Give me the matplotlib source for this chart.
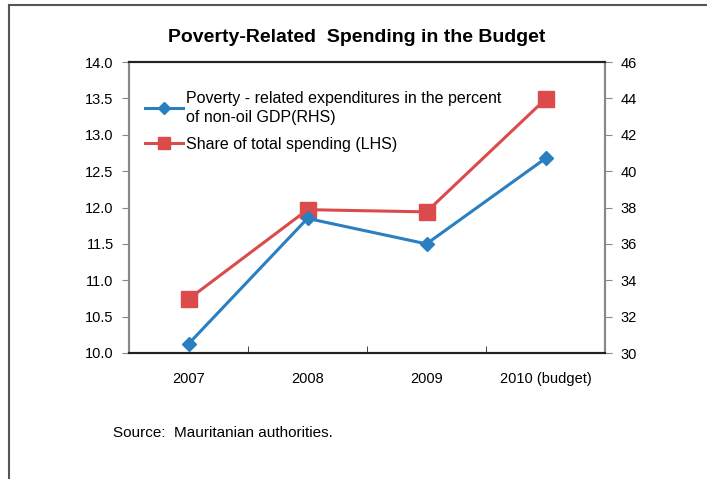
import matplotlib.pyplot as plt
from matplotlib.lines import Line2D

years = ["2007", "2008", "2009", "2010 (budget)"]
# poverty-related expenditures, percent of non-oil GDP (right axis)
poverty_gdp = [30.5, 37.4, 36.0, 40.7]
# share of total spending (left axis)
share_spending = [10.74, 11.97, 11.94, 13.49]

left_ticks = [10.0, 10.5, 11.0, 11.5, 12.0, 12.5, 13.0, 13.5, 14.0]
right_ticks = [30, 32, 34, 36, 38, 40, 42, 44, 46]

BLUE = "#2a7fc1"
RED = "#dc4b4b"

plt.rcParams["font.family"] = ["Liberation Sans", "DejaVu Sans"]

fig = plt.figure(figsize=(7.07, 4.79), dpi=100)
ax = fig.add_axes([129 / 707, 1 - 353 / 479, 476 / 707, 291 / 479])
ax2 = ax.twinx()

x = list(range(len(years)))
red_line, = ax.plot(x, share_spending, color=RED, lw=2.2, marker="s", ms=11,
                    label="Share of total spending (LHS)")
blue_line, = ax2.plot(x, poverty_gdp, color=BLUE, lw=2.2, marker="D", ms=7.5,
                      label="Poverty - related expenditures in the percent\nof non-oil GDP(RHS)")

ax.set_xlim(-0.5, len(years) - 0.5)
ax.set_ylim(10, 14)
ax2.set_ylim(30, 46)
ax.set_yticks(left_ticks)
ax.set_yticklabels([f"{v:.1f}" for v in left_ticks])
ax2.set_yticks(right_ticks)

ax.set_xticks(x)
ax.set_xticklabels(years)
ax.set_xticks([i + 0.5 for i in x[:-1]], minor=True)
ax.tick_params(axis="x", which="major", length=0, pad=14, labelsize=10.5)
ax.tick_params(axis="x", which="minor", length=5, direction="in", color="#222")
ax.tick_params(axis="y", length=5, direction="out", color="#888", labelsize=10.5, pad=6)
ax2.tick_params(axis="y", length=5, direction="out", color="#888", labelsize=10.5, pad=6)

for a in (ax, ax2):
    a.spines["top"].set_color("#222")
    a.spines["bottom"].set_color("#222")
    a.spines["top"].set_linewidth(1.5)
    a.spines["bottom"].set_linewidth(1.5)
    a.spines["left"].set_color("#888")
    a.spines["right"].set_color("#888")
    a.spines["left"].set_linewidth(1.5)
    a.spines["right"].set_linewidth(1.5)

leg = ax.legend(handles=[blue_line, red_line], loc="upper left",
                bbox_to_anchor=(0.0, 0.955), frameon=False, fontsize=11.5,
                handlelength=2.4, handletextpad=0.2, labelspacing=0.75,
                borderaxespad=0.6, markerscale=0.75)
leg.get_texts()[0].set_linespacing(1.3)

fig.text(357 / 707, 1 - 38 / 479, "Poverty-Related  Spending in the Budget",
         ha="center", va="center", fontsize=14, fontweight="bold")
fig.text(113 / 707, 1 - 433 / 479, "Source:  Mauritanian authorities.",
         ha="left", va="center", fontsize=11)

# page frame around the chart
fig.add_artist(Line2D([8.5 / 707, 8.5 / 707], [0, 1 - 4.5 / 479],
                      transform=fig.transFigure, color="#555", lw=1.5))
fig.add_artist(Line2D([8.5 / 707, 1], [1 - 4.5 / 479, 1 - 4.5 / 479],
                      transform=fig.transFigure, color="#555", lw=1.5))

fig.savefig("out.png", dpi=100)
